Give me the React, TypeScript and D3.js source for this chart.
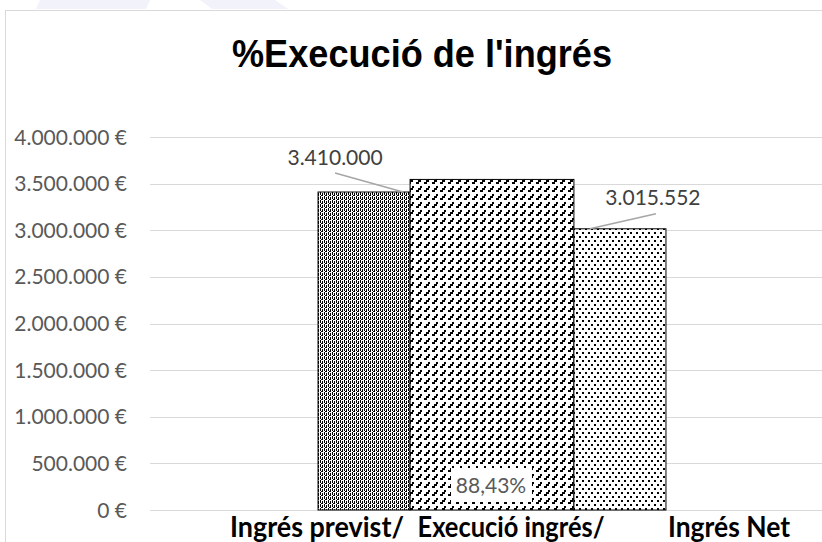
import React from "react";
import * as d3 from "d3";

// chart values
const chartTitle = "%Execució de l'ingrés";
const categories = ["Ingrés previst/ Execució ingrés/ Ingrés Net"];
const seriesNames = ["Ingrés previst", "Execució ingrés", "Ingrés Net"];
const seriesValues = [3410000, 3545000, 3015552];
const categoryLabelParts = ["Ingrés previst/", "Execució ingrés/", "Ingrés Net"];
const yTicks = [0, 500000, 1000000, 1500000, 2000000, 2500000, 3000000, 3500000, 4000000];

// layout
const W = 822;
const H = 542;
const margin = { top: 137, right: -12, bottom: 32, left: 150 };
const barWeights = [1, 1.78, 1];
const patternIds = ["pat-dense", "pat-diag", "pat-dots"];
// manual data-label offsets (Excel style, moved labels with leader lines)
const labelOffsets = [
  { dx: -29, dy: -27, leader: true },
  { dx: 0, dy: 0, leader: false },
  { dx: 33, dy: -24, leader: true },
];
const catLabelCenters = [-175, 19, 237];
const catLabelWidths = [174, 187, 122];

const locale = d3.formatLocale({
  decimal: ",",
  thousands: ".",
  grouping: [3],
  currency: ["", " €"],
});
const fmtEuro = locale.format("$,.0f");
const fmtNum = locale.format(",.0f");
const fmtPct = locale.format(".2%");

export default function App() {
  const plotW = W - margin.left - margin.right;
  const plotH = H - margin.top - margin.bottom;
  const x0 = margin.left;
  const y0 = margin.top;

  const x = d3
    .scaleBand<string>()
    .domain(categories)
    .range([x0, x0 + plotW])
    .paddingOuter(0.483)
    .paddingInner(0);

  const y = d3
    .scaleLinear()
    .domain([0, 4000000])
    .range([y0 + plotH, y0]);

  const cat = categories[0];
  const bandStart = x(cat) as number;
  const bw = x.bandwidth();
  const cum = d3.cumsum(barWeights);
  const inner = d3
    .scaleLinear()
    .domain([0, d3.sum(barWeights)])
    .range([bandStart, bandStart + bw]);

  const bars = seriesValues.map((v, i) => {
    const left = inner(cum[i] - barWeights[i]);
    const right = inner(cum[i]);
    return { name: seriesNames[i], v, left, right, top: y(v), i };
  });

  const labels = [
    fmtNum(seriesValues[0]),
    fmtPct(seriesValues[2] / seriesValues[0]),
    fmtNum(seriesValues[2]),
  ];

  const center = bandStart + bw / 2;

  return (
    <svg
      width={W}
      height={H}
      style={{ position: "absolute", left: 0, top: 0, background: "#fff" }}
    >
      <defs>
        <pattern id="pat-dense" width="4" height="4" patternUnits="userSpaceOnUse">
          <rect width="4" height="4" fill="#fff" />
          <rect x="0" y="0" width="1" height="3" fill="#000" />
          <rect x="2" y="1" width="1" height="3" fill="#000" />
          <rect x="1" y="3" width="1" height="1" fill="#000" />
        </pattern>
        <pattern id="pat-diag" width="8" height="8" patternUnits="userSpaceOnUse">
          <rect width="8" height="8" fill="#fff" />
          <rect x="0" y="6" width="3" height="2" fill="#000" />
          <rect x="2" y="4" width="3" height="2" fill="#000" />
          <rect x="4" y="2" width="2" height="2" fill="#000" />
        </pattern>
        <pattern id="pat-dots" width="6" height="8" patternUnits="userSpaceOnUse">
          <rect width="6" height="8" fill="#fff" />
          <rect x="0" y="0" width="2" height="2" fill="#000" />
          <rect x="3" y="4" width="2" height="2" fill="#000" />
        </pattern>
      </defs>

      {/* faint background shapes */}
      <polygon points="40,0 150,0 146,9 36,9" fill="#f2f3fa" />
      <polygon points="200,0 275,0 288,9 212,9" fill="#f2f3fa" />

      {/* chart frame */}
      <line x1={5.5} x2={5.5} y1={10} y2={H} stroke="#d9d9d9" />
      <line x1={5} x2={W} y1={10.5} y2={10.5} stroke="#d9d9d9" />

      <text
        x={422}
        y={67}
        textAnchor="middle"
        fontFamily="'Liberation Sans', Arial, sans-serif"
        fontWeight="bold"
        fontSize={38}
        textLength={380}
        lengthAdjust="spacingAndGlyphs"
        fill="#000"
      >
        {chartTitle}
      </text>

      {/* gridlines + y labels */}
      {yTicks.map((t) => (
        <g key={t}>
          <line
            x1={x0}
            x2={x0 + plotW}
            y1={Math.round(y(t)) + 0.5}
            y2={Math.round(y(t)) + 0.5}
            stroke="#d9d9d9"
            strokeWidth={1}
          />
          <text
            x={x0 - 23}
            y={y(t)}
            dy="0.36em"
            textAnchor="end"
            fontFamily="Lato, sans-serif"
            fontSize={21}
            fill="#595959"
          >
            {fmtEuro(t)}
          </text>
        </g>
      ))}

      {/* bars */}
      {bars.map((b) => (
        <rect
          key={b.name}
          x={b.left}
          y={b.top}
          width={b.right - b.left}
          height={y(0) - b.top}
          fill={`url(#${patternIds[b.i]})`}
          stroke="#000"
          strokeWidth={1}
        />
      ))}

      {/* data labels */}
      {bars.map((b) => {
        const o = labelOffsets[b.i];
        const cx = (b.left + b.right) / 2;
        if (!o.leader) {
          const ly = y(0) - 25;
          return (
            <g key={b.name}>
              <rect x={cx - 41} y={ly - 17} width={81} height={34} fill="#fff" />
              <text
                x={cx - 1}
                y={ly}
                dy="0.36em"
                textAnchor="middle"
                fontFamily="Lato, sans-serif"
                fontSize={21}
                fill="#595959"
              >
                {labels[b.i]}
              </text>
            </g>
          );
        }
        const lx = cx + o.dx;
        const ly = b.top + o.dy;
        const lineStart = o.dx < 0 ? [lx, ly + 8] : [lx + 3, ly + 9];
        const lineEnd = o.dx < 0 ? [b.right - 7, b.top] : [b.left + 16, b.top];
        return (
          <g key={b.name}>
            <line
              x1={lineStart[0]}
              y1={lineStart[1]}
              x2={lineEnd[0]}
              y2={lineEnd[1]}
              stroke="#a6a6a6"
              strokeWidth={1.5}
            />
            <text
              x={lx}
              y={ly}
              textAnchor="middle"
              fontFamily="Lato, sans-serif"
              fontSize={21}
              fill="#404040"
            >
              {labels[b.i]}
            </text>
          </g>
        );
      })}

      {/* category label (wrapped in the source) */}
      {categoryLabelParts.map((p, i) => (
        <text
          key={p}
          x={center + catLabelCenters[i]}
          y={537}
          textAnchor="middle"
          fontFamily="Lato, sans-serif"
          fontWeight="bold"
          fontSize={28}
          textLength={catLabelWidths[i]}
          lengthAdjust="spacingAndGlyphs"
          fill="#000"
        >
          {p}
        </text>
      ))}
    </svg>
  );
}
